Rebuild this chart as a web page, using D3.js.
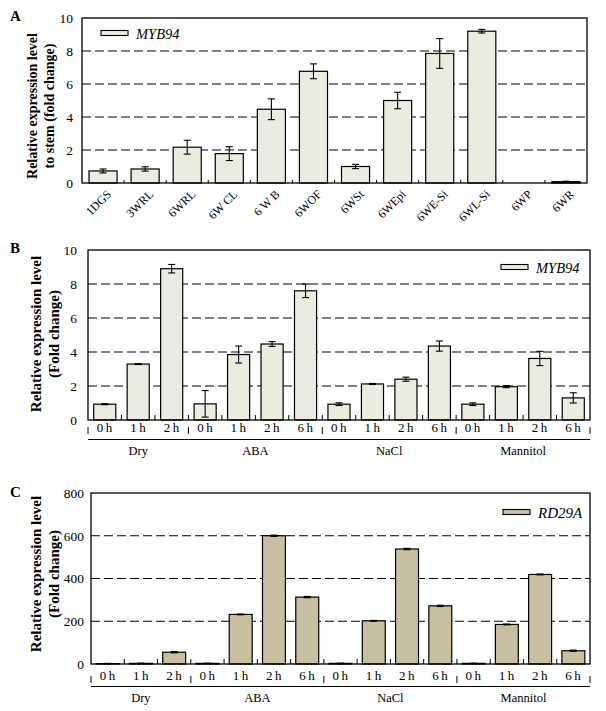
<!DOCTYPE html>
<html><head><meta charset="utf-8">
<script src="https://cdn.jsdelivr.net/npm/d3@7"></script>
<style>
body{margin:0;background:#fff}
svg{display:block;font-family:"Liberation Serif","Times New Roman",serif}
</style>
</head><body>
<svg id="chart" width="606" height="711"></svg>
<script>
// ---------- DATA ----------
const tissues = ["1DGS","3WRL","6WRL","6W CL","6 W B","6WOF","6WSt","6WEpi","6WE-Si","6WL-Si","6WP","6WR"];
const tissueMean = [0.73, 0.85, 2.17, 1.78, 4.47, 6.77, 1.0, 5.0, 7.85, 9.2, 0, 0.08];
const tissueErr  = [0.12, 0.13, 0.42, 0.42, 0.63, 0.45, 0.13, 0.5, 0.9, 0.11, 0, 0.03];
const ticksA = [0, 2, 4, 6, 8, 10];

const treatments = ["Dry", "ABA", "NaCl", "Mannitol"];
const treatmentTimes = [["0h","1h","2h"], ["0h","1h","2h","6h"], ["0h","1h","2h","6h"], ["0h","1h","2h","6h"]];

const myb94Mean = [0.93, 3.29, 8.9,  0.95, 3.85, 4.47, 7.6,  0.93, 2.12, 2.4, 4.35,  0.93, 1.96, 3.62, 1.3];
const myb94Err  = [0.03, 0.03, 0.25, 0.78, 0.5,  0.14, 0.4,  0.08, 0.03, 0.12, 0.3,  0.08, 0.06, 0.42, 0.3];
const ticksB = [0, 2, 4, 6, 8, 10];

const rd29aMean = [2, 3, 55,  3, 232, 600, 313,  3, 202, 538, 272,  3, 185, 419, 62];
const rd29aErr  = [1, 1, 3,   1, 2,   3,   3,    1, 2,   3,   3,    1, 2,   2,   3];
const ticksC = [0, 200, 400, 600, 800];

// ---------- DRAW ----------
const svg = d3.select("#chart");
const serif = '"Liberation Serif","Times New Roman",serif';

function drawPanel(o) {
  const g = svg.append("g");
  const x = d3.scaleBand().domain(o.keys).range([o.x0, o.x1])
    .paddingInner(o.pad).paddingOuter(o.pad / 2);
  const y = d3.scaleLinear().domain([0, o.ticks[o.ticks.length - 1]]).range([o.y1, o.y0]);

  // gridlines
  g.selectAll(".grid").data(o.ticks.slice(1, -1)).join("line")
    .attr("x1", o.x0).attr("x2", o.x1)
    .attr("y1", d => y(d)).attr("y2", d => y(d))
    .attr("stroke", "#000").attr("stroke-width", 1.1).attr("stroke-dasharray", "9,4");

  // bars
  g.selectAll(".bar").data(o.means).join("rect")
    .attr("x", (d, i) => x(o.keys[i]))
    .attr("width", x.bandwidth())
    .attr("y", d => y(d))
    .attr("height", d => y(0) - y(d))
    .attr("fill", o.fill).attr("stroke", d => d > 0 ? "#000" : "none").attr("stroke-width", 1.2);

  // error bars
  const eb = g.selectAll(".eb").data(o.means).join("g")
    .attr("transform", (d, i) => `translate(${x(o.keys[i]) + x.bandwidth() / 2},0)`);
  eb.filter((d, i) => o.errs[i] > 0).each(function (d, i0) {
    const i = o.means.indexOf(d) >= 0 ? o.keys.indexOf(o.keys[o.means.indexOf(d)]) : i0;
  });
  o.means.forEach((m, i) => {
    const e = o.errs[i];
    if (!(e > 0)) return;
    const cx = x(o.keys[i]) + x.bandwidth() / 2;
    const top = y(m + e), bot = y(Math.max(0, m - e));
    g.append("line").attr("x1", cx).attr("x2", cx).attr("y1", top).attr("y2", bot).attr("stroke", "#000").attr("stroke-width", 1.1);
    g.append("line").attr("x1", cx - 3.5).attr("x2", cx + 3.5).attr("y1", top).attr("y2", top).attr("stroke", "#000").attr("stroke-width", 1.1);
    g.append("line").attr("x1", cx - 3.5).attr("x2", cx + 3.5).attr("y1", bot).attr("y2", bot).attr("stroke", "#000").attr("stroke-width", 1.1);
  });

  // inside category ticks
  const step = x.step();
  g.selectAll(".ctick").data(d3.range(1, o.keys.length)).join("line")
    .attr("x1", i => o.x0 + i * step).attr("x2", i => o.x0 + i * step)
    .attr("y1", o.y1).attr("y2", o.y1 - o.ctick)
    .attr("stroke", "#000").attr("stroke-width", 1);

  // frame
  g.append("rect").attr("x", o.x0).attr("y", o.y0).attr("width", o.x1 - o.x0).attr("height", o.y1 - o.y0)
    .attr("fill", "none").attr("stroke", "#000").attr("stroke-width", 1.3);

  // y axis labels
  const ya = g.append("g").attr("transform", `translate(${o.x0},0)`)
    .call(d3.axisLeft(y).tickValues(o.ticks).tickSize(0).tickPadding(o.tickPad));
  ya.select(".domain").remove();
  ya.selectAll("text").attr("font-family", serif).attr("font-size", 13.5).attr("fill", "#000");

  // y title
  const tt = g.append("text").attr("transform", `translate(${o.titleX},${o.titleY}) rotate(-90)`)
    .attr("text-anchor", "middle").attr("font-weight", "bold").attr("font-size", o.titleSize).attr("font-family", serif);
  o.title.forEach((t, k) => tt.append("tspan").attr("x", 0).attr("dy", k === 0 ? 0 : o.titleGap).text(t));

  // panel letter
  g.append("text").attr("x", 10).attr("y", o.letterY).attr("font-weight", "bold").attr("font-size", 15)
    .attr("font-family", serif).text(o.letter);

  // legend
  g.append("rect").attr("x", o.legX).attr("y", o.legY).attr("width", 27).attr("height", 5)
    .attr("fill", o.fill).attr("stroke", "#000").attr("stroke-width", 1.1);
  g.append("text").attr("x", o.legX + 35).attr("y", o.legY + 8).attr("font-style", "italic")
    .attr("font-size", o.legSize).attr("font-family", serif).text(o.legend);

  return { g, x, y };
}

// Panel A
const A = drawPanel({
  keys: tissues, means: tissueMean, errs: tissueErr, ticks: ticksA,
  x0: 82, x1: 587, y0: 18, y1: 183, pad: 0.333, ctick: 3, tickPad: 9,
  fill: "#ECEBE0", title: ["Relative expression level", "to stem (fold change)"],
  titleX: 37, titleY: 106, titleSize: 14, titleGap: 16.5, letter: "A", letterY: 21,
  legX: 101, legY: 30.5, legend: "MYB94", legSize: 14.5
});
A.g.selectAll(".xl").data(tissues).join("text")
  .attr("transform", d => `translate(${A.x(d) + A.x.bandwidth() / 2 + 6},${192}) rotate(-45)`)
  .attr("text-anchor", "end").attr("dy", "0.35em")
  .attr("font-size", 12).attr("font-family", serif).text(d => d);

// helper for grouped axis
const groupKeys = [];
const groupLabels = [];
treatments.forEach((t, gi) => treatmentTimes[gi].forEach(h => { groupKeys.push(t + " " + h); groupLabels.push(h); }));

function groupedAxis(P, o) {
  const g = P.g;
  g.selectAll(".tl").data(groupKeys).join("text")
    .attr("x", d => P.x(d) + P.x.bandwidth() / 2 + 1).attr("y", o.tickY)
    .attr("text-anchor", "middle").attr("font-size", 13).attr("letter-spacing", "2.5px")
    .attr("font-family", serif).text((d, i) => groupLabels[i]);
  const bounds = [];
  let c = 0;
  bounds.push(groupKeys[0]);
  treatments.forEach((t, gi) => {
    const first = groupKeys[c], last = groupKeys[c + treatmentTimes[gi].length - 1];
    const gx0 = P.x(first) - P.x.step() * P.x.paddingInner() / 2;
    const gx1 = P.x(last) + P.x.bandwidth() + P.x.step() * P.x.paddingInner() / 2;
    g.append("line").attr("x1", gx0).attr("x2", gx0).attr("y1", o.sepY0).attr("y2", o.sepY1).attr("stroke", "#000");
    if (gi === treatments.length - 1)
      g.append("line").attr("x1", gx1).attr("x2", gx1).attr("y1", o.sepY0).attr("y2", o.sepY1).attr("stroke", "#000");
    g.append("text").attr("x", (gx0 + gx1) / 2).attr("y", o.groupY).attr("text-anchor", "middle")
      .attr("font-size", 12.5).attr("font-family", serif).text(t);
    c += treatmentTimes[gi].length;
  });
  const r = P.x.range();
  g.append("line").attr("x1", r[0]).attr("x2", r[1]).attr("y1", o.lineY).attr("y2", o.lineY).attr("stroke", "#000").attr("stroke-width", 1.2);
}

// Panel B
const B = drawPanel({
  keys: groupKeys, means: myb94Mean, errs: myb94Err, ticks: ticksB,
  x0: 88, x1: 590, y0: 250, y1: 420, pad: 0.34, ctick: 5, tickPad: 11,
  fill: "#ECEBE0", title: ["Relative expression level", "(Fold change)"],
  titleX: 41, titleY: 334, titleSize: 15, titleGap: 17.5, letter: "B", letterY: 253,
  legX: 501, legY: 264.5, legend: "MYB94", legSize: 14.5
});
groupedAxis(B, { tickY: 432, sepY0: 427, sepY1: 434, lineY: 439.5, groupY: 455 });

// Panel C
const C = drawPanel({
  keys: groupKeys, means: rd29aMean, errs: rd29aErr, ticks: ticksC,
  x0: 91, x1: 590, y0: 493, y1: 664, pad: 0.31, ctick: 5, tickPad: 7,
  fill: "#C7BF9F", title: ["Relative expression level", "(Fold change)"],
  titleX: 41, titleY: 574, titleSize: 15, titleGap: 17.5, letter: "C", letterY: 497,
  legX: 503, legY: 509.5, legend: "RD29A", legSize: 15
});
groupedAxis(C, { tickY: 680, sepY0: 676, sepY1: 683, lineY: 686.5, groupY: 702 });
</script>
</body></html>
